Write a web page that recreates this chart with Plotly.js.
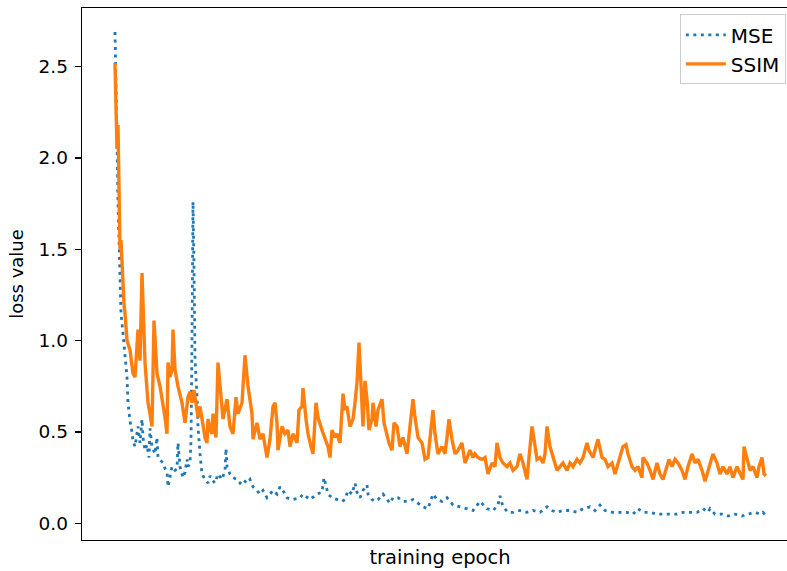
<!DOCTYPE html>
<html>
<head>
<meta charset="utf-8">
<script src="https://cdn.plot.ly/plotly-3.0.1.min.js"></script>
<style>
html, body { margin:0; padding:0; overflow:hidden; background:#fff; width:787px; height:571px; }
#chart { width:799px; height:571px; }
</style>
</head>
<body>
<div id="chart"></div>
<script>
// ---- data ----
const seriesNames = ["MSE", "SSIM"];
const yTickVals = [0, 0.5, 1.0, 1.5, 2.0, 2.5];
const yTickText = ["0.0", "0.5", "1.0", "1.5", "2.0", "2.5"];

const mseEpoch = [1,2,3,4,5,6,7,9,11,13,14,16,18,19,21,23,24,26,28,29,31,33,35,36,38,41,43,44,46,49,51,53,54,56,58,61,63,64,66,69,71,73,74,76,77,78,79,80,81,83,84,86,88,91,94,96,98,101,104,108,111,112,113,116,119,123,126,129,133,136,139,143,146,149,153,156,159,163,166,170,173,179,186,189,196,203,208,210,214,218,223,228,231,234,238,241,243,246,249,253,254,258,261,264,269,273,276,279,284,289,294,299,304,309,314,319,323,328,333,339,346,353,359,366,373,379,384,386,389,394,399,406,413,419,426,433,438,443,449,456,463,469,476,481,486,491,499,506,513,519,524,529,536,543,549,556,563,569,576,583,589,594,596,601,608,614,621,628,634,641,646,649,652];
const mseLoss = [2.69,2.45,2.10,1.75,1.50,1.33,1.15,1.04,0.93,0.80,0.66,0.56,0.50,0.45,0.42,0.50,0.53,0.44,0.57,0.47,0.40,0.43,0.36,0.52,0.42,0.38,0.47,0.36,0.35,0.33,0.30,0.28,0.20,0.26,0.31,0.29,0.30,0.44,0.31,0.25,0.28,0.35,0.31,0.33,0.45,1.00,1.76,1.40,0.90,0.70,0.53,0.38,0.27,0.24,0.22,0.26,0.24,0.22,0.27,0.24,0.29,0.41,0.31,0.27,0.25,0.24,0.22,0.24,0.22,0.24,0.20,0.18,0.16,0.18,0.14,0.16,0.18,0.16,0.20,0.17,0.14,0.13,0.14,0.16,0.13,0.16,0.17,0.25,0.16,0.14,0.13,0.12,0.13,0.18,0.16,0.22,0.17,0.14,0.18,0.21,0.16,0.13,0.12,0.13,0.16,0.13,0.11,0.14,0.14,0.12,0.12,0.13,0.11,0.09,0.08,0.16,0.13,0.12,0.14,0.10,0.09,0.08,0.07,0.12,0.08,0.07,0.10,0.15,0.09,0.06,0.06,0.07,0.06,0.07,0.06,0.09,0.07,0.06,0.07,0.07,0.06,0.08,0.09,0.07,0.10,0.07,0.06,0.06,0.06,0.05,0.08,0.06,0.06,0.05,0.05,0.05,0.05,0.06,0.06,0.06,0.08,0.06,0.08,0.05,0.05,0.04,0.05,0.04,0.05,0.06,0.05,0.06,0.04];

const ssimEpoch = [1,2,3,4,5,6,7,8,10,11,13,16,19,21,24,26,28,31,34,36,38,40,43,46,49,51,53,54,56,58,59,61,64,68,71,74,76,78,80,84,86,89,91,93,94,96,98,99,102,104,107,109,113,116,119,122,124,128,131,134,138,139,143,146,149,153,156,159,161,163,164,168,171,174,176,179,183,185,188,189,192,194,197,199,202,204,208,211,214,216,218,221,223,226,229,231,233,236,239,241,243,245,247,249,251,253,255,258,259,262,264,268,270,273,275,278,280,283,286,289,293,296,299,301,304,308,311,314,319,321,324,328,331,333,335,338,341,344,348,351,354,356,359,361,364,368,371,374,378,381,383,386,389,393,396,399,403,406,409,413,415,418,420,423,426,429,431,433,436,439,443,446,449,453,456,459,463,466,469,473,475,479,482,484,488,491,494,498,501,504,507,509,512,514,518,521,524,528,529,533,536,539,543,546,549,553,555,558,561,564,568,571,574,578,581,584,588,591,594,598,599,603,606,609,613,616,619,623,626,629,630,633,636,639,643,645,648,650,652];
const ssimLoss = [2.52,2.35,2.05,2.18,1.60,1.50,1.55,1.40,1.20,1.15,1.00,0.95,0.82,0.80,1.06,0.89,1.37,0.88,0.66,0.60,0.53,1.11,0.82,0.75,0.66,0.58,0.49,0.88,0.80,0.84,1.06,0.84,0.75,0.66,0.55,0.69,0.72,0.66,0.73,0.58,0.64,0.55,0.47,0.44,0.57,0.52,0.49,0.60,0.47,0.88,0.71,0.57,0.68,0.53,0.49,0.69,0.60,0.66,0.92,0.75,0.60,0.46,0.55,0.46,0.49,0.36,0.46,0.64,0.66,0.55,0.40,0.53,0.49,0.51,0.42,0.49,0.44,0.62,0.64,0.74,0.57,0.49,0.42,0.38,0.66,0.58,0.51,0.46,0.42,0.36,0.51,0.47,0.49,0.44,0.71,0.62,0.64,0.53,0.57,0.66,0.77,0.99,0.71,0.53,0.78,0.68,0.51,0.57,0.66,0.53,0.62,0.68,0.55,0.49,0.44,0.40,0.55,0.53,0.42,0.47,0.38,0.53,0.68,0.58,0.47,0.44,0.35,0.36,0.62,0.49,0.38,0.42,0.38,0.47,0.57,0.46,0.38,0.40,0.44,0.33,0.38,0.40,0.36,0.38,0.36,0.35,0.36,0.27,0.33,0.31,0.44,0.36,0.33,0.31,0.33,0.29,0.31,0.38,0.33,0.24,0.36,0.53,0.46,0.35,0.36,0.33,0.38,0.53,0.42,0.36,0.29,0.31,0.33,0.29,0.33,0.31,0.35,0.33,0.36,0.44,0.40,0.36,0.42,0.46,0.36,0.35,0.31,0.33,0.27,0.33,0.38,0.42,0.43,0.38,0.31,0.29,0.31,0.25,0.36,0.33,0.29,0.24,0.33,0.27,0.24,0.31,0.35,0.31,0.35,0.33,0.29,0.24,0.31,0.38,0.33,0.35,0.29,0.23,0.29,0.36,0.38,0.33,0.27,0.31,0.27,0.31,0.25,0.31,0.27,0.24,0.42,0.36,0.29,0.31,0.25,0.31,0.36,0.27,0.26];

// ---- chart ----
const traces = [
  { x: mseEpoch, y: mseLoss, name: seriesNames[0], type: "scatter", mode: "lines",
    line: { color: "#1f77b4", width: 2.8, dash: "3px,4.5px" } },
  { x: ssimEpoch, y: ssimLoss, name: seriesNames[1], type: "scatter", mode: "lines",
    line: { color: "#ff7f0e", width: 3.4 } }
];

const layout = {
  width: 799, height: 571,
  margin: { l: 82, r: 1, t: 8, b: 31 },
  paper_bgcolor: "#fff", plot_bgcolor: "#fff",
  font: { family: "DejaVu Sans", size: 18, color: "#000" },
  showlegend: true,
  legend: {
    x: 0.983, xanchor: "right", y: 0.988, yanchor: "top",
    bordercolor: "#cccccc", borderwidth: 1, bgcolor: "rgba(255,255,255,0.8)",
    font: { family: "DejaVu Sans", size: 20, color: "#000" },
    tracegroupgap: 0, itemwidth: 40
  },
  xaxis: {
    range: [-32, 684], showgrid: false, zeroline: false,
    showline: true, linecolor: "#000", linewidth: 1.3, mirror: true,
    ticks: "", showticklabels: false,
    title: { text: "training epoch", font: { size: 19.5 }, standoff: 10 },
    automargin: false
  },
  yaxis: {
    range: [-0.0914, 2.821], showgrid: false, zeroline: false,
    showline: true, linecolor: "#000", linewidth: 1.3, mirror: true,
    ticks: "outside", ticklen: 6, tickwidth: 1.3, tickcolor: "#000",
    tickvals: yTickVals, ticktext: yTickText, ticklabelstandoff: 3,
    tickfont: { size: 18.5 },
    title: { text: "loss value", font: { size: 18 }, standoff: 10 },
    automargin: false
  }
};

Plotly.newPlot("chart", traces, layout, { staticPlot: true, displayModeBar: false });
</script>
</body>
</html>
